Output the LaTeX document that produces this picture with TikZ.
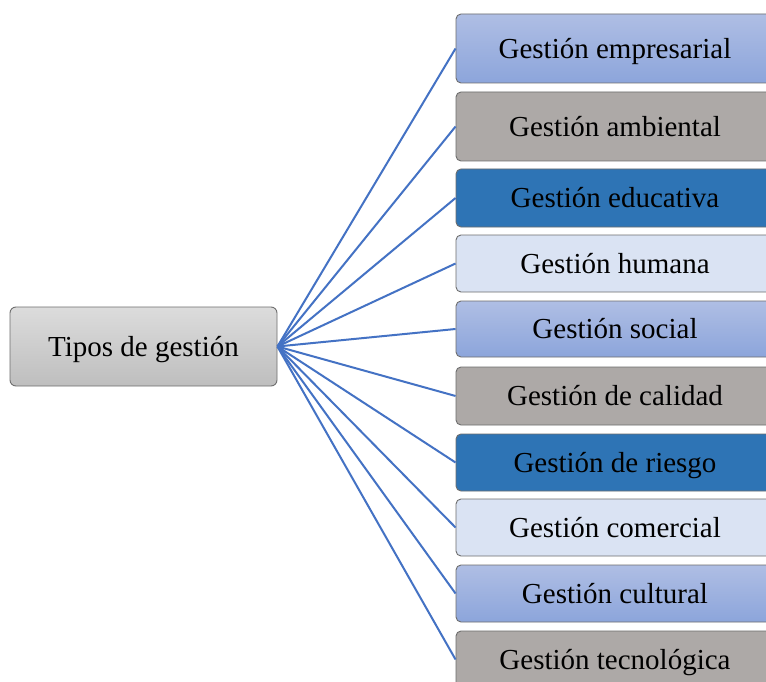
\documentclass[tikz,border=0pt]{standalone}
\usepackage{fontspec}
\setmainfont{Liberation Serif}
\definecolor{peritop}{HTML}{AFBEE4}
\definecolor{peribot}{HTML}{8CA5DB}
\definecolor{graybox}{HTML}{ADA9A7}
\definecolor{darkblue}{HTML}{2E74B5}
\definecolor{lightblue}{HTML}{DAE3F3}
\definecolor{rootop}{HTML}{DCDCDC}
\definecolor{rootbot}{HTML}{BEBEBE}
\definecolor{edgegray}{HTML}{6E6E6E}
\definecolor{linkblue}{HTML}{4472C4}
\begin{document}
\begin{tikzpicture}[x=1pt,y=-1pt,
  box/.style={draw=edgegray, line width=0.9pt, rounded corners=5pt, minimum width=318pt,
    inner sep=0pt, text height=26pt, text depth=6.3pt,
    font=\fontsize{29}{34}\selectfont, text=black},
  peri/.style={box, top color=peritop, bottom color=peribot},
  grayb/.style={box, fill=graybox},
  darkb/.style={box, fill=darkblue},
  lightb/.style={box, fill=lightblue},
  rootbox/.style={draw=edgegray, line width=0.9pt, rounded corners=6pt, minimum width=267pt,
    minimum height=79pt, inner sep=0pt, text height=26pt, text depth=6.3pt,
    top color=rootop, bottom color=rootbot,
    font=\fontsize{29}{34}\selectfont},
  link/.style={draw=linkblue, line width=2pt}]
\useasboundingbox (0,0) rectangle (766,682);
\clip (0,0) rectangle (766,682);
\fill[white] (0,0) rectangle (766,682);
\node[rootbox] (root) at (143.5,346.5) {Tipos de gestión};
\node[peri, minimum height=69pt] (b1) at (615,48.5) {Gestión empresarial};
\node[grayb, minimum height=69pt] (b2) at (615,126.5) {Gestión ambiental};
\node[darkb, minimum height=58pt] (b3) at (615,198) {Gestión educativa};
\node[lightb, minimum height=57pt] (b4) at (615,263.5) {Gestión humana};
\node[peri, minimum height=56pt] (b5) at (615,329) {Gestión social};
\node[grayb, minimum height=58pt] (b6) at (615,396) {Gestión de calidad};
\node[darkb, minimum height=57pt] (b7) at (615,462.5) {Gestión de riesgo};
\node[lightb, minimum height=57pt] (b8) at (615,527.5) {Gestión comercial};
\node[peri, minimum height=57pt] (b9) at (615,593.5) {Gestión cultural};
\node[grayb, minimum height=57pt] (b10) at (615,659.5) {Gestión tecnológica};
\foreach \i in {1,...,10} {\draw[link] (root.east) -- (b\i.west);}
\end{tikzpicture}
\end{document}
